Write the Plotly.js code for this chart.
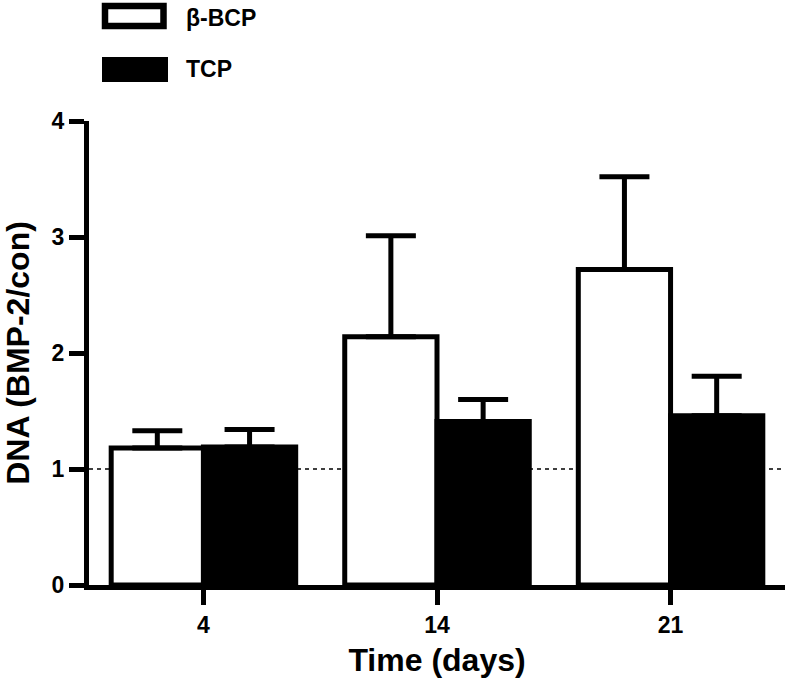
<!DOCTYPE html>
<html>
<head>
<meta charset="utf-8">
<script src="https://cdn.plot.ly/plotly-3.0.1.min.js"></script>
<style>html,body{margin:0;padding:0;background:#fff;}#chart{width:792px;height:686px;}</style>
</head>
<body>
<div id="chart"></div>
<script>
// Data
const categories = ['4', '14', '21'];
const bcpMean = [1.18, 2.14, 2.72];
const bcpErrUp = [0.15, 0.87, 0.80];
const tcpMean = [1.19, 1.41, 1.46];
const tcpErrUp = [0.15, 0.19, 0.34];
const seriesNames = ['β-BCP', 'TCP'];
const yTicks = [0, 1, 2, 3, 4];
const referenceLevel = 1;

const W = 792, H = 686;
const M = {l: 89, r: 7, t: 121, b: 101};
const PW = W - M.l - M.r, PH = H - M.t - M.b;
const px = x => (x - M.l) / PW;
const py = y => 1 - (y - M.t) / PH;

const FONT = 'Liberation Sans, Arial, sans-serif';
const zeros = categories.map(() => 0);

const traces = [
  {
    type: 'bar', name: seriesNames[0], x: categories, y: bcpMean,
    marker: {color: '#ffffff', line: {color: '#000000', width: 5}},
    error_y: {type: 'data', symmetric: false, array: bcpErrUp, arrayminus: zeros,
              color: '#000000', thickness: 5, width: 25},
    showlegend: false, hoverinfo: 'x+y'
  },
  {
    type: 'bar', name: seriesNames[1], x: categories, y: tcpMean,
    marker: {color: '#000000', line: {color: '#000000', width: 5}},
    error_y: {type: 'data', symmetric: false, array: tcpErrUp, arrayminus: zeros,
              color: '#000000', thickness: 5, width: 25},
    showlegend: false, hoverinfo: 'x+y'
  }
];

const layout = {
  width: W, height: H,
  margin: M,
  paper_bgcolor: '#ffffff', plot_bgcolor: '#ffffff',
  font: {family: FONT, color: '#000000'},
  barmode: 'group', bargap: 0.21, bargroupgap: 0,
  showlegend: false,
  xaxis: {
    type: 'category', range: [-0.49, 2.49],
    showline: true, linecolor: '#000000', linewidth: 5,
    ticks: 'outside', ticklen: 15, tickwidth: 5, tickcolor: '#000000',
    showgrid: false, zeroline: false, fixedrange: true,
    tickfont: {family: FONT, size: 23, color: '#000000', weight: 'bold'},
    title: {text: '<b>Time (days)</b>', font: {family: FONT, size: 32, color: '#000000'}, standoff: 14}
  },
  yaxis: {
    range: [0, 4], tickvals: yTicks, ticktext: yTicks.map(String),
    showline: true, linecolor: '#000000', linewidth: 5,
    ticks: 'outside', ticklen: 15, tickwidth: 5, tickcolor: '#000000',
    showgrid: false, zeroline: false, fixedrange: true,
    tickfont: {family: FONT, size: 23, color: '#000000', weight: 'bold'},
    title: {text: '<b>DNA (BMP-2/con)</b>', font: {family: FONT, size: 32, color: '#000000'}, standoff: 20}
  },
  shapes: [
    {type: 'line', layer: 'below', xref: 'paper', yref: 'y', x0: 0, x1: 1,
     y0: referenceLevel, y1: referenceLevel, line: {color: '#000000', width: 1.5, dash: '4px,4px'}},
    {type: 'rect', xref: 'paper', yref: 'paper', x0: px(105), x1: px(163.5), y0: py(6), y1: py(26),
     fillcolor: '#ffffff', line: {color: '#000000', width: 6.5}},
    {type: 'rect', xref: 'paper', yref: 'paper', x0: px(102), x1: px(168), y0: py(57), y1: py(82),
     fillcolor: '#000000', line: {color: '#000000', width: 0}}
  ],
  annotations: [
    {xref: 'paper', yref: 'paper', x: px(184), y: py(18), xanchor: 'left', yanchor: 'middle',
     text: '<b>' + seriesNames[0] + '</b>', showarrow: false, font: {family: FONT, size: 23, color: '#000000'}},
    {xref: 'paper', yref: 'paper', x: px(184), y: py(69), xanchor: 'left', yanchor: 'middle',
     text: '<b>' + seriesNames[1] + '</b>', showarrow: false, font: {family: FONT, size: 23, color: '#000000'}}
  ]
};

Plotly.newPlot('chart', traces, layout, {staticPlot: true, displayModeBar: false});
</script>
</body>
</html>
